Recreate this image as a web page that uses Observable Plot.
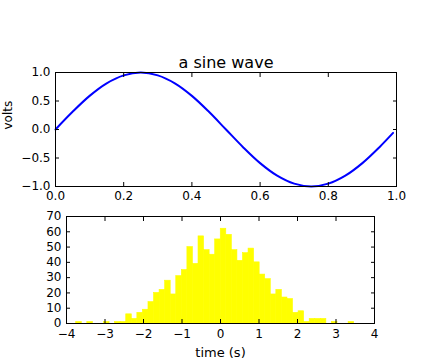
<!DOCTYPE html>
<html><head><meta charset="utf-8">
<script src="https://cdn.jsdelivr.net/npm/d3@7"></script>
<script src="https://cdn.jsdelivr.net/npm/@observablehq/plot@0.6"></script>
<style>
body{margin:0;background:white;}
#chart svg{display:block;}
</style>
</head><body><div id="chart"></div>
<script>
// ---- data ----
const title = "a sine wave";
const yLabelTop = "volts";
const xLabelBottom = "time (s)";
const timeValues = [0, 0.05, 0.1, 0.15, 0.2, 0.25, 0.3, 0.35, 0.4, 0.45, 0.5, 0.55, 0.6, 0.65, 0.7, 0.75, 0.8, 0.85, 0.9, 0.95, 0.99];
const voltValues = [0, 0.31, 0.59, 0.81, 0.95, 1.0, 0.95, 0.81, 0.59, 0.31, 0, -0.31, -0.59, -0.81, -0.95, -1.0, -0.95, -0.81, -0.59, -0.31, -0.06];
const topXTicks = [0, 0.2, 0.4, 0.6, 0.8, 1.0];
const topYTicks = [-1, -0.5, 0, 0.5, 1];
const histCounts = [1,0,1,0,0,1,0,1,1,6, 3,7,9,14,20,22,28,19,31,35, 50,39,57,48,45,55,62,58,48,41, 46,49,40,32,29,19,22,17,16,7, 8,1,3,3,3,0,1,0,0,1];
const histStart = -3.748;
const histBinWidth = 0.1444;
const bottomXTicks = [-4, -3, -2, -1, 0, 1, 2, 3, 4];
const bottomYTicks = [0, 10, 20, 30, 40, 50, 60, 70];

// ---- build ----
const sine = timeValues.map((t, i) => ({t, v: voltValues[i]}));
const bins = histCounts
  .map((c, i) => ({x1: histStart + i * histBinWidth, x2: histStart + (i + 1) * histBinWidth, count: c}))
  .filter(d => d.count > 0);
const style = {fontFamily: "'DejaVu Sans', sans-serif", fontSize: "12px", background: "white", color: "black", overflow: "visible"};
const blank = () => "";

function frameTicks(xt, yt) {
  return [
    Plot.axisX(xt, {anchor: "bottom", tickSize: -4, tickFormat: blank, label: null}),
    Plot.axisX(xt, {anchor: "top", tickSize: -4, tickFormat: blank, label: null}),
    Plot.axisY(yt, {anchor: "left", tickSize: -4, tickFormat: blank, label: null}),
    Plot.axisY(yt, {anchor: "right", tickSize: -4, tickFormat: blank, label: null})
  ];
}

const topChart = Plot.plot({
  width: 440, height: 205,
  marginTop: 72, marginBottom: 19, marginLeft: 55, marginRight: 44,
  style,
  x: {domain: [0, 1]},
  y: {domain: [-1, 1]},
  marks: [
    Plot.line(sine, {x: "t", y: "v", stroke: "#0000ff", strokeWidth: 2, curve: "catmull-rom"}),
    Plot.frame({stroke: "black"}),
    ...frameTicks(topXTicks, topYTicks),
    Plot.axisX(topXTicks, {anchor: "bottom", tickSize: 0, tickPadding: 5, tickFormat: d3.format(".1f"), label: null}),
    Plot.axisY(topYTicks, {anchor: "left", tickSize: 0, tickPadding: 5, tickFormat: d3.format(".1f"), label: null}),
    Plot.text([title], {frameAnchor: "top", lineAnchor: "bottom", dy: -5, fontSize: 16}),
    Plot.text([yLabelTop], {frameAnchor: "left", rotate: -90, dx: -47, fontSize: 12})
  ]
});

const bottomChart = Plot.plot({
  width: 440, height: 155,
  marginTop: 11, marginBottom: 37, marginLeft: 66, marginRight: 66,
  style,
  x: {domain: [-4, 4]},
  y: {domain: [0, 70]},
  marks: [
    Plot.rectY(bins, {x1: "x1", x2: "x2", y: "count", fill: "yellow", stroke: "yellow", strokeWidth: 0.6, inset: 0}),
    Plot.frame({stroke: "black"}),
    ...frameTicks(bottomXTicks, bottomYTicks),
    Plot.axisX(bottomXTicks, {anchor: "bottom", tickSize: 0, tickPadding: 6, tickFormat: d3.format("d"), label: null}),
    Plot.axisY(bottomYTicks, {anchor: "left", tickSize: 0, tickPadding: 5, tickFormat: d3.format("d"), label: null}),
    Plot.text([xLabelBottom], {frameAnchor: "bottom", lineAnchor: "middle", dy: 29, fontSize: 13})
  ]
});

const root = document.getElementById("chart");
root.appendChild(topChart);
root.appendChild(bottomChart);
</script>
</body></html>
